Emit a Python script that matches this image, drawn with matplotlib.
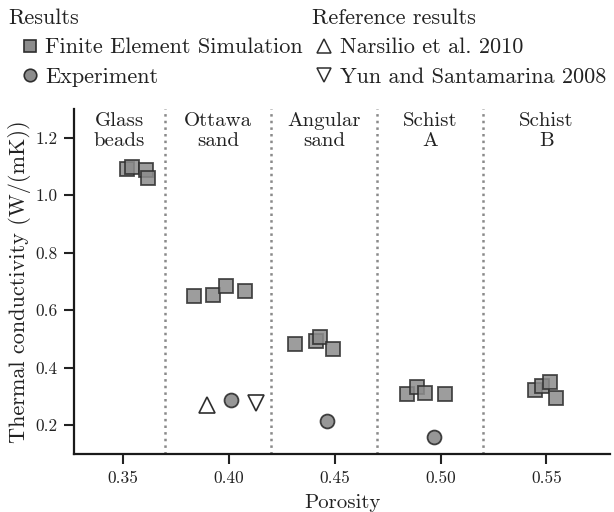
import numpy as np
import matplotlib
matplotlib.use('Agg')
import matplotlib.pyplot as plt
from matplotlib.lines import Line2D

plt.rcParams['font.family'] = 'serif'
plt.rcParams['font.serif'] = ['cmr10']
plt.rcParams['mathtext.fontset'] = 'cm'
plt.rcParams['axes.unicode_minus'] = False
plt.rcParams['axes.formatter.use_mathtext'] = True

# finite element simulation results (porosity, conductivity)
fem_porosity = [0.3519, 0.3546, 0.3612, 0.3619,
                0.3836, 0.3926, 0.3987, 0.4075,
                0.4311, 0.4414, 0.4429, 0.4492,
                0.4843, 0.4890, 0.4926, 0.5020,
                0.5448, 0.5478, 0.5516, 0.5544]
fem_conductivity = [1.092, 1.098, 1.087, 1.061,
                    0.649, 0.652, 0.684, 0.666,
                    0.481, 0.493, 0.508, 0.466,
                    0.310, 0.334, 0.312, 0.307,
                    0.321, 0.338, 0.350, 0.296]

# measured values
exp_porosity = [0.4011, 0.4466, 0.4968]
exp_conductivity = [0.287, 0.214, 0.160]

# values from literature (Ottawa sand)
narsilio_porosity = [0.3898]
narsilio_conductivity = [0.272]
yun_porosity = [0.4127]
yun_conductivity = [0.278]

material_names = ['Glass\nbeads', 'Ottawa\nsand', 'Angular\nsand', 'Schist\nA', 'Schist\nB']
material_centers = [0.3485, 0.395, 0.445, 0.495, 0.55]
boundaries = [0.37, 0.42, 0.47, 0.52]

fig = plt.figure(figsize=(6.14, 5.12), dpi=100)
ax = fig.add_axes([0.1205, 0.1133, 0.873, 0.674])

face = '#8c8c8c'
edge = '#2e2e2e'

for b in boundaries:
    ax.axvline(b, color='#8a8a8a', linestyle=':', linewidth=1.8, zorder=1)

ax.plot(fem_porosity, fem_conductivity, 's', ms=10, mfc=face, mec=edge,
        mew=1.3, alpha=0.85, zorder=3)
ax.plot(exp_porosity, exp_conductivity, 'o', ms=10, mfc=face, mec=edge,
        mew=1.3, alpha=0.9, zorder=3)
ax.plot(narsilio_porosity, narsilio_conductivity, '^', ms=11, mfc='white',
        mec=edge, mew=1.2, zorder=3)
ax.plot(yun_porosity, yun_conductivity, 'v', ms=11, mfc='white',
        mec=edge, mew=1.2, zorder=3)

for name, xc in zip(material_names, material_centers):
    ax.text(xc, 1.29, name, ha='center', va='top', fontsize=15,
            linespacing=1.2, color='#222222')

ax.set_xlim(0.327, 0.58)
ax.set_ylim(0.1, 1.3)
ax.set_xticks([0.35, 0.40, 0.45, 0.50, 0.55])
ax.set_xticklabels(['0.35', '0.40', '0.45', '0.50', '0.55'])
ax.set_yticks([0.2, 0.4, 0.6, 0.8, 1.0, 1.2])
ax.set_yticklabels(['0.2', '0.4', '0.6', '0.8', '1.0', '1.2'])
ax.tick_params(direction='out', length=7, width=1.5, labelsize=12.5,
               colors='#222222', pad=5)
for side in ['top', 'right']:
    ax.spines[side].set_visible(False)
for side in ['left', 'bottom']:
    ax.spines[side].set_linewidth(1.6)
    ax.spines[side].set_color('#1a1a1a')

ax.set_xlabel('Porosity', fontsize=15, color='#222222', labelpad=6)
ax.set_ylabel('Thermal conductivity (W/(mK))', fontsize=16, color='#222222',
              labelpad=3)

handles = [
    Line2D([], [], ls='', marker='s', ms=9, mfc=face, mec=edge, mew=1.2),
    Line2D([], [], ls='', marker='o', ms=9, mfc=face, mec=edge, mew=1.2),
    Line2D([], [], ls='', marker='^', ms=10, mfc='white', mec=edge, mew=1.1),
    Line2D([], [], ls='', marker='v', ms=10, mfc='white', mec=edge, mew=1.1),
]
labels = ['Finite Element Simulation', 'Experiment',
          'Narsilio et al. 2010', 'Yun and Santamarina 2008']
leg = fig.legend(handles, labels, ncol=2, loc='upper left',
                 bbox_to_anchor=(21 / 614, 0.926), frameon=False, fontsize=16,
                 handlelength=0.8, handletextpad=0.3, columnspacing=0.54,
                 labelspacing=0.45, borderaxespad=0, borderpad=0)
for t in leg.get_texts():
    t.set_color('#222222')

fig.text(8 / 614, 1 - 18 / 512, 'Results', fontsize=16, va='center',
         color='#222222')
fig.text(312 / 614, 1 - 18 / 512, 'Reference results', fontsize=16,
         va='center', color='#222222')

fig.savefig('out.png', dpi=100)
